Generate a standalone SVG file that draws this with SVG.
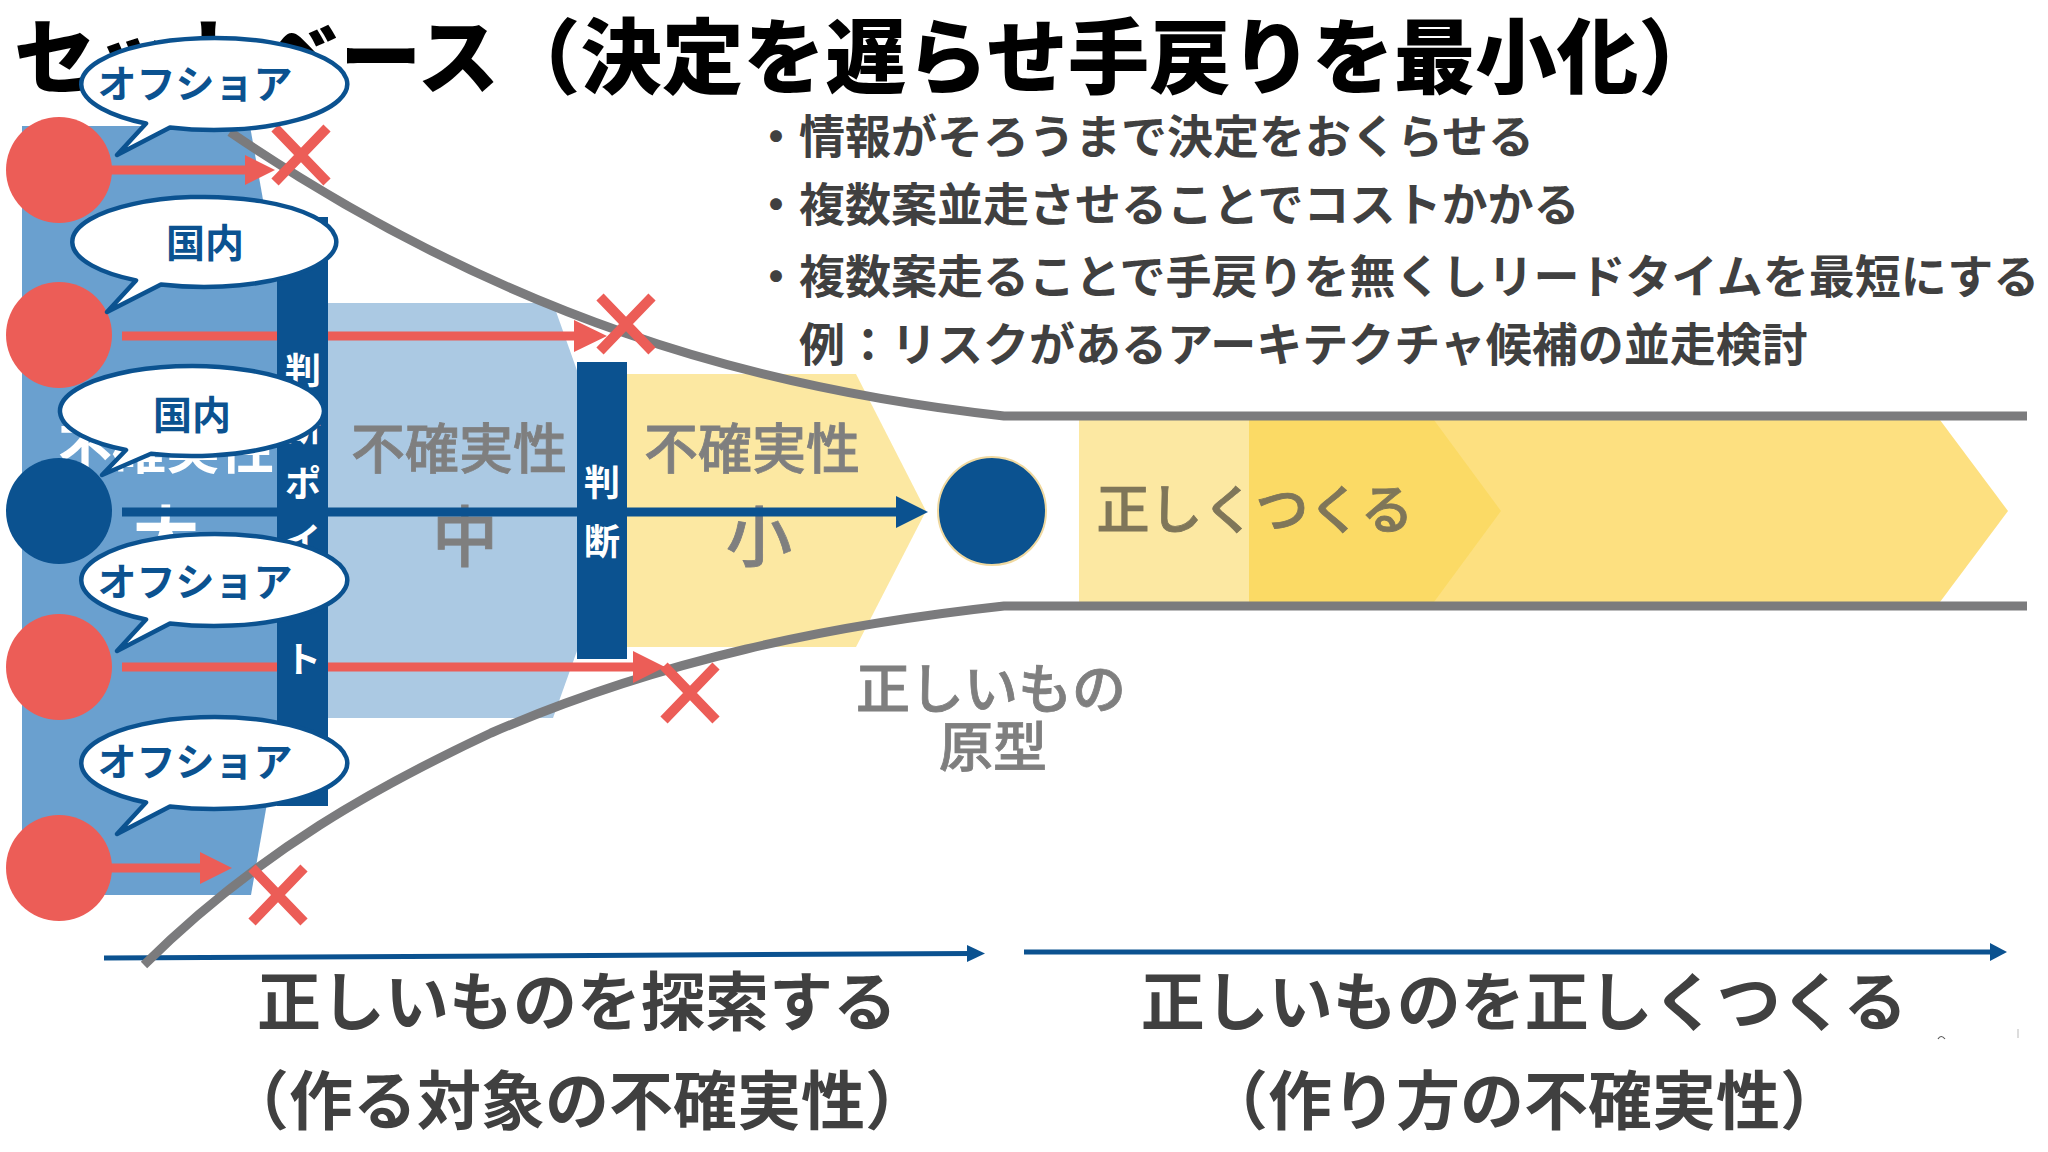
<svg xmlns="http://www.w3.org/2000/svg" width="2048" height="1152" viewBox="0 0 2048 1152">
<style>
text{font-family:"Noto Sans CJK JP","Noto Sans",sans-serif}
.t{font-size:46px;fill:#404040;font-weight:700}
.b{font-size:64px;fill:#404040;font-weight:700;text-anchor:middle}
.g{font-size:54px;fill:#7f7f7f;stroke:#7f7f7f;stroke-width:.8;text-anchor:middle;font-weight:500}
.h{font-size:66px}
.v{font-size:36px;fill:#fff;text-anchor:middle;font-weight:700}
.c{font-size:39px;fill:#0b5290;text-anchor:middle;font-weight:700}
.bar{fill:#0b5290}
.r{stroke:#ec5d57;stroke-width:9;fill:none}
.n{stroke:#0b5290;stroke-width:9;fill:none}
.x{stroke:#ec5d57;stroke-width:10;fill:none}
.gc{stroke:#7b7b7d;stroke-width:9;fill:none}
.call path{fill:#fff;stroke:#0b5290;stroke-width:4.5;stroke-linejoin:round}
</style>
<rect width="2048" height="1152" fill="#fff"/>
<g id="title"><text x="14" y="87" font-size="81.5" font-weight="900" fill="#000">セットベース（決定を遅らせ手戻りを最小化）</text></g>
<g id="notes">
<text class="t" x="753" y="153">・情報がそろうまで決定をおくらせる</text>
<text class="t" x="753" y="221">・複数案並走させることでコストかかる</text>
<text class="t" x="753" y="293">・複数案走ることで手戻りを無くしリードタイムを最短にする</text>
<text class="t" x="799" y="361">例：リスクがあるアーキテクチャ候補の並走検討</text>
</g>
<g id="stage-large">
<polygon points="22,126 250,126 318,511 251,895 22,895" fill="#6aa0cf"/>
<text x="166" y="469" font-size="54" fill="#fff" text-anchor="middle" font-weight="700">不確実性</text>
<text x="166" y="561" font-size="66" fill="#fff" text-anchor="middle" font-weight="700">大</text>
</g>
<g id="stage-medium">
<polygon points="328,303 553,303 627,511 553,718 328,718" fill="#abc9e3"/>
<text class="g" x="459" y="469">不確実性</text>
<text class="g h" x="465" y="561">中</text>
</g>
<g id="stage-small">
<polygon points="627,374 856,374 926,511 856,647 627,647" fill="#fce8a2"/>
<text class="g" x="752" y="469">不確実性</text>
<text class="g h" x="759" y="561">小</text>
</g>
<g id="stage-build">
<polygon points="1079,420 1434,420 1501,511 1434,602 1079,602" fill="#fce8a2"/>
<polygon points="1249,420 1940,420 2008,511 1940,602 1249,602" fill="#fde080"/>
<polygon points="1249,420 1434,420 1501,511 1434,602 1249,602" fill="#fbda65"/>
<text x="1255" y="529" font-size="53" fill="#7f7659" stroke="#7f7659" stroke-width=".8" text-anchor="middle" font-weight="500">正しくつくる</text>
</g>
<g id="connectors">
<path d="M104,958L972,953.5" stroke="#0b5290" stroke-width="5" fill="none"/><polygon points="967,945 985,953.5 967,962" fill="#0b5290"/>
<path d="M1024,952H1995" stroke="#0b5290" stroke-width="5" fill="none"/><polygon points="1990,943 2007,952 1990,961" fill="#0b5290"/>
<path class="gc" d="M230,132C362,222 490,286 625,333C750,377 880,402 1004,416H2027"/>
<path class="gc" d="M144,965C260,850 380,785 491,733C660,660 830,625 1004,606H2027"/>
<g id="arrows-red">
<path class="r" d="M100,170H250"/><polygon points="245,155 275,170 245,185" fill="#ec5d57"/>
<path class="r" d="M122,336H580"/><polygon points="574,320 607,336 574,352" fill="#ec5d57"/>
<path class="r" d="M122,667H640"/><polygon points="633,651 665,667 633,683" fill="#ec5d57"/>
<path class="r" d="M100,868H205"/><polygon points="200,852 232,868 200,884" fill="#ec5d57"/>
</g>
<path class="n" d="M122,512H900"/><polygon points="896,496 928,512 896,528" fill="#0b5290"/>
</g>
<g id="crosses">
<path class="x" d="M275,128L327,182M327,128L275,182"/>
<path class="x" d="M600,297L652,351M652,297L600,351"/>
<path class="x" d="M664,666L716,720M716,666L664,720"/>
<path class="x" d="M252,868L304,922M304,868L252,922"/>
</g>
<g id="gate-1">
<rect class="bar" x="277" y="217" width="51" height="589"/>
<text class="v" x="303" y="384">判</text><text class="v" x="303" y="441">断</text><text class="v" x="303" y="497">ポ</text><text class="v" x="303" y="554">イ</text><text class="v" x="303" y="612">ン</text><text class="v" x="303" y="673">ト</text>
</g>
<g id="gate-2">
<rect class="bar" x="577" y="362" width="50" height="297"/>
<text class="v" x="602" y="496">判</text><text class="v" x="602" y="555">断</text>
</g>
<g id="people">
<circle id="p1" cx="59" cy="170" r="53" fill="#ec5d57"/>
<circle id="p2" cx="59" cy="335" r="53" fill="#ec5d57"/>
<circle id="p3" cx="59" cy="511" r="53" fill="#0b5290"/>
<circle id="p4" cx="59" cy="667" r="53" fill="#ec5d57"/>
<circle id="p5" cx="59" cy="868" r="53" fill="#ec5d57"/>
</g>
<g id="result"><circle cx="992" cy="511" r="54" fill="#0b5290" stroke="#f0d9a0" stroke-width="2"/></g>
<g id="callout-1" class="call"><path d="M146,123.5A133,46 0 1 1 170,127.4L117,155Z"/><text class="c" x="195" y="98">オフショア</text></g>
<g id="callout-2" class="call"><path d="M136,280.4A132,45 0 1 1 161,284.4L107,312Z"/><text class="c" x="205" y="257">国内</text></g>
<g id="callout-3" class="call"><path d="M126,450A132,45 0 1 1 151,453.8L102,475Z"/><text class="c" x="192" y="429">国内</text></g>
<g id="callout-4" class="call"><path d="M146,619.5A133,46 0 1 1 170,623.4L117,651Z"/><text class="c" x="195" y="596">オフショア</text></g>
<g id="callout-5" class="call"><path d="M146,802.5A133,46 0 1 1 170,806.4L117,834Z"/><text class="c" x="195" y="776">オフショア</text></g>
<g id="labels">
<text class="g" x="991" y="709">正しいもの</text>
<text class="g" x="993" y="767">原型</text>
<text class="b" x="577" y="1025">正しいものを探索する</text>
<text class="b" x="577" y="1124">（作る対象の不確実性）</text>
<text class="b" x="1524" y="1025">正しいものを正しくつくる</text>
<text class="b" x="1524" y="1124">（作り方の不確実性）</text>
</g>
<g id="marks"><path d="M1938,1039Q1941,1034 1945,1039" stroke="#555" stroke-width="1.2" fill="none"/><path d="M2018,1029V1038" stroke="#bbb" stroke-width="1" fill="none"/></g>
</svg>
